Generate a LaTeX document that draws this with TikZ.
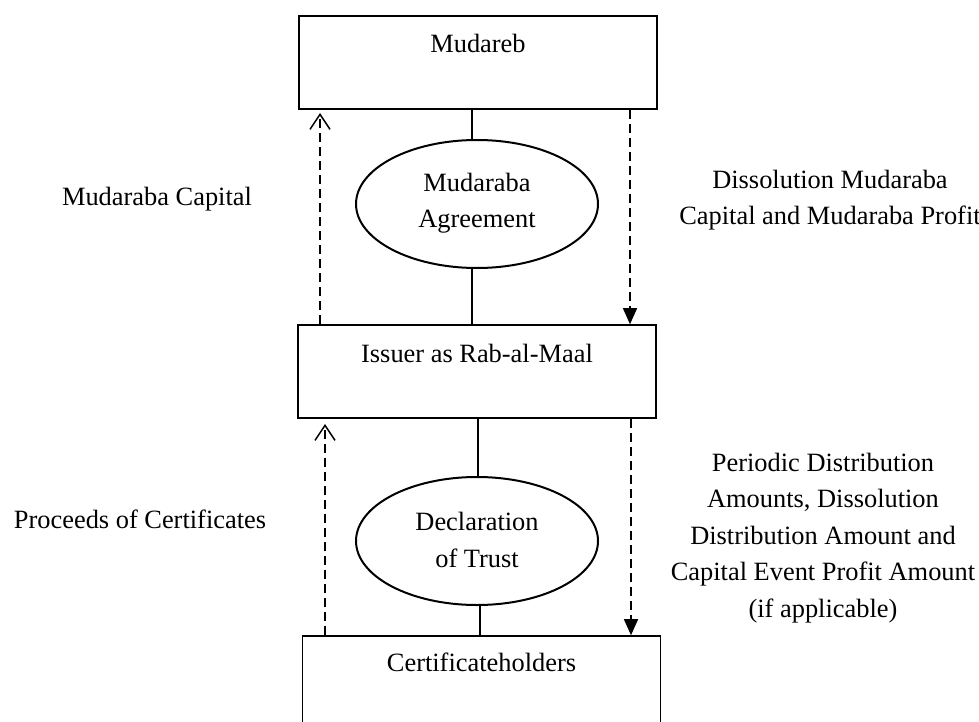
\documentclass[tikz,border=0pt]{standalone}
\usepackage{fontspec}
\setmainfont{Liberation Serif}
\usetikzlibrary{shapes.geometric,arrows.meta}
\tikzset{
  box/.style={draw=black, line width=1.6pt, rectangle, minimum width=358pt, minimum height=93pt, inner sep=0pt},
  oval/.style={draw=black, line width=2pt, ellipse, minimum width=242pt, minimum height=128pt, inner sep=0pt, align=center},
  txt/.style={inner sep=0pt, align=center, font=\fontsize{26.4}{36.5}\selectfont},
  link/.style={line width=1.6pt},
  upflow/.style={line width=1.5pt, dash pattern=on 9pt off 5pt, -{Straight Barb[length=15pt, width=20pt, line width=1.5pt]}},
  downflow/.style={line width=1.5pt, dash pattern=on 9pt off 5pt, -{Triangle[length=16pt, width=14pt]}}
}
\begin{document}
\begin{tikzpicture}[x=1pt, y=-1pt]
\useasboundingbox (0,0) rectangle (979,722);
\clip (0,0) rectangle (979,722);
% boxes
\node[box] (mud) at (478,62.5) {};
\node[txt] (mudT) at (478,43) {Mudareb};
\node[box] (iss) at (477,371.5) {};
\node[txt] (issT) at (477,353) {Issuer as Rab-al-Maal};
\node[box] (cert) at (481.5,682.5) {};
\node[txt] (certT) at (481.5,662) {Certificateholders};
% ellipses
\node[oval] (ma) at (477,204) {};
\node[txt] (maT) at (477,203) {Mudaraba\\Agreement};
\node[oval] (dt) at (477,541) {};
\node[txt] (dtT) at (477,540) {Declaration\\of Trust};
% solid links
\coordinate (xa) at (472,0);
\coordinate (xb) at (478,0);
\coordinate (xc) at (480,0);
\draw[link] (mud.south -| xa) -- (ma.north -| xa);
\draw[link] (ma.south -| xa) -- (iss.north -| xa);
\draw[link] (iss.south -| xb) -- (dt.north -| xb);
\draw[link] (dt.south -| xc) -- (cert.north -| xc);
% dashed flows
\coordinate (xl1) at (320,0);
\coordinate (xr1) at (630,0);
\coordinate (xl2) at (325,0);
\coordinate (xr2) at (631,0);
\coordinate (tip1) at (320,113);
\coordinate (tip2) at (325,424);
\draw[upflow] (iss.north -| xl1) -- (tip1);
\draw[downflow] (mud.south -| xr1) -- (iss.north -| xr1);
\draw[upflow] (cert.north -| xl2) -- (tip2);
\draw[downflow] (iss.south -| xr2) -- (cert.north -| xr2);
% labels
\node[txt] (l1) at (157,199) {Mudaraba Capital};
\node[txt] (r1) at (830,200) {Dissolution Mudaraba\\Capital and Mudaraba Profit};
\node[txt] (l2) at (140,519) {Proceeds of Certificates};
\node[txt] (r2) at (823,538) {Periodic Distribution\\Amounts, Dissolution\\Distribution Amount and\\Capital Event Profit Amount\\(if applicable)};
\end{tikzpicture}
\end{document}
